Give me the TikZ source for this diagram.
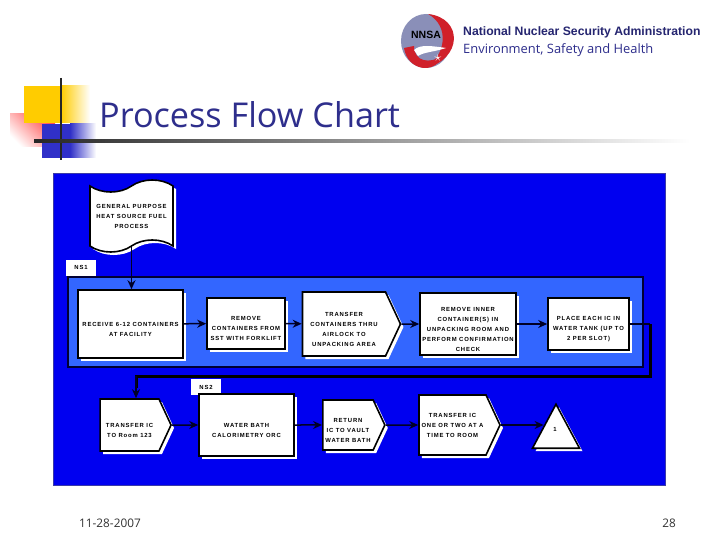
\documentclass[tikz,border=0pt]{standalone}
\usepackage{fontspec}
\setmainfont{Open Sans}
\newfontfamily\boxfont[LetterSpace=14]{Liberation Sans}
\newfontfamily\headfont{Liberation Sans}
\usetikzlibrary{arrows.meta,positioning,calc,shadows,shapes.geometric,shapes.symbols}
\definecolor{panelblue}{HTML}{0000F0}
\definecolor{paneledge}{HTML}{3A3AA8}
\definecolor{laneblue}{HTML}{3366FF}
\definecolor{titleblue}{HTML}{2E2E8C}
\definecolor{logored}{HTML}{D0202A}
\definecolor{logogray}{HTML}{8A8FB8}
\definecolor{cornerblue}{HTML}{3030C8}
\definecolor{corneryellow}{HTML}{FFCC00}
\tikzset{
  whiteshadow/.style={drop shadow={shadow xshift=3pt,shadow yshift=-3pt,fill=white,opacity=1}},
  flowtext/.style={font=\boxfont\bfseries\fontsize{5.9}{10}\selectfont,align=center,text=black},
  procbox/.style={draw=black,line width=1.6pt,fill=white,whiteshadow,flowtext,inner sep=0pt},
  movebox/.style={procbox,signal,signal from=nowhere,signal to=east,signal pointer angle=130},
  filebox/.style={procbox,tape,tape bend top=in and out,tape bend bottom=in and out,tape bend height=12pt},
  holdbox/.style={procbox,isosceles triangle,isosceles triangle stretches,shape border rotate=90,
    minimum width=47pt,minimum height=44pt},
  lanetag/.style={fill=white,flowtext,minimum width=30pt,minimum height=16pt,inner sep=0pt},
  flowline/.style={draw=black!85!blue,line width=1.5pt,-{Stealth[length=9pt,width=8pt]}},
  returnline/.style={draw=black,line width=3pt,line join=miter}
}
\newcommand{\lowrow}{\rule{0pt}{5pt}\\}
\begin{document}
\begin{tikzpicture}[x=1pt,y=-1pt]
  \useasboundingbox (0,0) rectangle (720,540);
  \fill[white] (0,0) rectangle (720,540);

  % template corner
  \shade[shading=axis,top color=red!70,bottom color=white,shading angle=-45] (10,114) rectangle (55,147);
  \fill[cornerblue] (42,124) rectangle (70,158);
  \shade[left color=cornerblue,right color=white] (70,124) rectangle (96,158);
  \fill[corneryellow] (24,86) rectangle (61,123);
  \shade[left color=corneryellow,right color=white] (61,86) rectangle (90,123);
  \draw[line width=2pt,black!85] (61,78) -- (61,160);
  \shade[left color=black!85,right color=white] (34,140) rectangle (690,142.5);
  \node[anchor=west,text=titleblue,font=\fontsize{34.2}{36}\selectfont,inner sep=0pt] (title) at (99,115) {Process Flow Chart};

  % logo
  \fill[logogray] (426,41) ellipse (25 and 27);
  \fill[logored] (428,14) .. controls (464,18) and (462,60) .. (425,68)
    .. controls (446,56) and (450,26) .. (428,14) -- cycle;
  \fill[logored] (404,48) .. controls (408,72) and (436,74) .. (442,56)
    .. controls (430,64) and (414,62) .. (414,46) -- cycle;
  \fill[white] (414,50) .. controls (420,44) and (432,46) .. (446,48)
    .. controls (434,52) and (424,52) .. (418,56) -- cycle;
  \node[text=black,font=\headfont\bfseries\fontsize{10.5}{11}\selectfont,inner sep=0pt] (logotext) at (426,35) {NNSA};
  \node[text=white,font=\fontsize{12}{12}\selectfont,inner sep=0pt] (starone) at (424,50) {$\star$};
  \node[text=white,font=\fontsize{14}{14}\selectfont,inner sep=0pt] (startwo) at (438,58) {$\star$};
  \node[anchor=west,text=titleblue!80!black,font=\headfont\bfseries\fontsize{12.2}{14}\selectfont,inner sep=0pt] (agency) at (463,32) {National Nuclear Security Administration};
  \node[anchor=west,text=titleblue,font=\fontsize{12.9}{14}\selectfont,inner sep=0pt] (office) at (463,50) {Environment, Safety and Health};

  % panel and lane
  \draw[line width=1pt,draw=paneledge,fill=panelblue] (53.5,173.5) rectangle (665,485);
  \draw[line width=1.3pt,draw=black!80!blue,fill=laneblue] (68,277) rectangle (643,367);

  \node[lanetag] (nsone) at (81,267.5) {NS1};
  \node[filebox,minimum width=83pt,minimum height=72pt] (fuel) at (131.5,216) {GENERAL PURPOSE\\HEAT SOURCE FUEL\\PROCESS};

  % first row
  \node[procbox,minimum width=105pt,minimum height=68pt] (receive) at (130.5,324) {\lowrow RECEIVE 6-12  CONTAINERS\\AT FACILITY};
  \node[procbox,minimum width=78pt,minimum height=51pt] (remove) at (246,323.5) {\lowrow REMOVE\\CONTAINERS FROM\\SST WITH FORKLIFT};
  \node[movebox,minimum width=98pt,minimum height=64pt] (thru) at (344,324) {\lowrow TRANSFER\\CONTAINERS THRU\\AIRLOCK TO\\UNPACKING AREA};
  \node[procbox,minimum width=96pt,minimum height=62pt] (inner) at (468,324) {\lowrow REMOVE INNER\\CONTAINER(S) IN\\UNPACKING ROOM AND\\PERFORM CONFIRMATION\\CHECK};
  \node[procbox,minimum width=81pt,minimum height=52pt] (tank) at (588.5,324) {\lowrow PLACE EACH IC  IN\\WATER TANK (UP TO\\2  PER SLOT)};

  % second row
  \node[lanetag] (nstwo) at (206,387) {NS2};
  \node[movebox,minimum width=71pt,minimum height=52pt] (room) at (129.5,425) {\lowrow TRANSFER IC\\TO Room 123};
  \node[procbox,minimum width=95pt,minimum height=62pt] (bath) at (246.5,425) {\lowrow WATER BATH\\CALORIMETRY  ORC};
  \node[movebox,minimum width=62pt,minimum height=50pt] (vault) at (348,425) {\lowrow RETURN\\IC TO VAULT\\WATER BATH};
  \node[movebox,minimum width=81pt,minimum height=60pt] (twoat) at (452.5,425) {TRANSFER IC\\ONE OR TWO AT A\\TIME  TO ROOM};
  \node[holdbox,anchor=lower side] (hold) at (556,449) {};
  \node[flowtext,inner sep=0pt] (holdnum) at (555,429) {1};

  % connectors
  \draw[flowline] (fuel.south) -- (receive.north -| fuel.south);
  \draw[flowline] (receive) -- (remove);
  \draw[flowline] (remove) -- (thru);
  \draw[flowline] (thru) -- (inner);
  \draw[flowline] (inner) -- (tank);
  \coordinate (turnout) at (650,324);
  \coordinate (turnlow) at (650,376);
  \coordinate (turnback) at (136,376);
  \draw[line width=1.5pt,draw=black!85!blue] (tank) -- (turnout);
  \draw[returnline] (turnout) -- (turnlow) -- (turnback) -- ++(0,12);
  \draw[flowline] (turnback) -- (room.north -| turnback);
  \draw[flowline] (room) -- (bath);
  \draw[flowline] (bath) -- (vault);
  \draw[flowline] (vault) -- (twoat);
  \draw[flowline] (twoat.east) -- (twoat.east -| hold.left side);

  % footer
  \node[anchor=west,text=black!80,font=\fontsize{11.8}{13}\selectfont,inner sep=0pt] (date) at (79,523.5) {11-28-2007};
  \node[anchor=east,text=black!80,font=\fontsize{11.8}{13}\selectfont,inner sep=0pt] (page) at (676,523.5) {28};
\end{tikzpicture}
\end{document}
